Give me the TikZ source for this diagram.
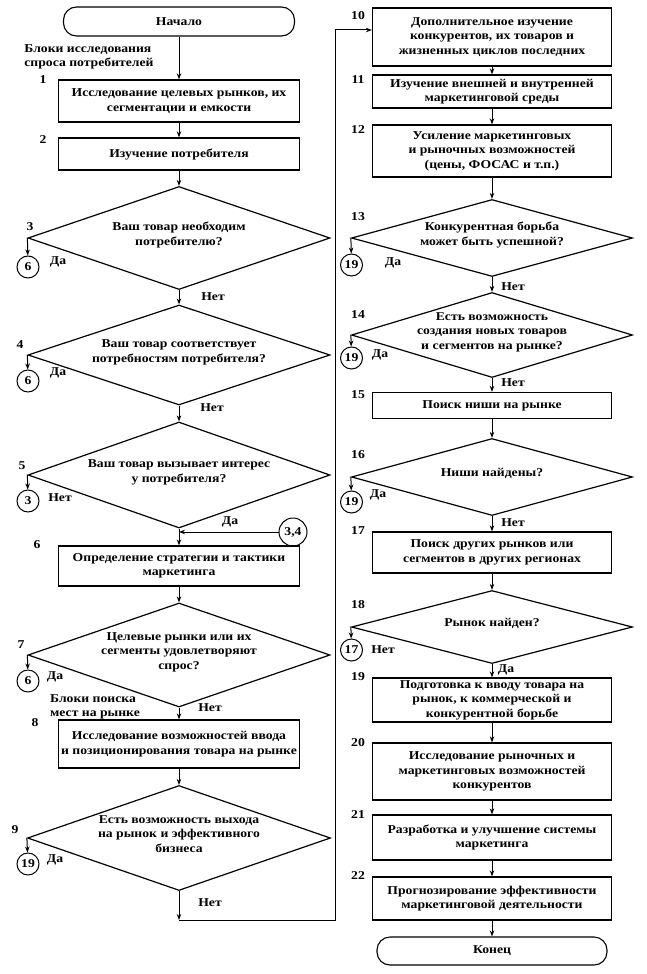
\documentclass[tikz,border=0pt]{standalone}
\usepackage{fontspec}
\setmainfont{Liberation Serif}[FakeStretch=1.14]
\usetikzlibrary{shapes.geometric,arrows.meta}
\newcommand{\dtext}[1]{\makebox[0pt]{\smash{\begin{tabular}{@{}c@{}}#1\end{tabular}}}}
\begin{document}
\begin{tikzpicture}[x=1pt,y=-1pt,
  every node/.style={font=\bfseries\fontsize{12}{14.5}\selectfont},
  box/.style={draw, line width=1.3pt, align=center, inner sep=1pt, minimum width=241pt},
  rbox/.style={box, minimum width=239pt},
  dia/.style={diamond, draw, line width=1.2pt, inner sep=0pt, minimum width=302pt},
  rdia/.style={dia, minimum width=281pt},
  term/.style={draw, rounded corners=13pt, line width=1.1pt, minimum width=231pt, minimum height=29pt},
  conn/.style={circle, draw, line width=1pt, minimum size=22pt, inner sep=0pt},
  lab/.style={inner sep=0pt},
  arr/.style={-{Stealth[length=6pt,width=4.5pt]}, line width=1pt}]
\useasboundingbox (0,0) rectangle (646,974);

% ---------- left column ----------
\node[term] (start) at (179,21.5) {Начало};
\node[lab, align=left] (t1) at (89,57) {Блоки исследования\\спроса потребителей};
\node[box, minimum height=42pt] (b1) at (179,101) {Исследование целевых рынков, их\\сегментации и емкости};
\node[box, minimum height=32pt] (b2) at (179,154) {Изучение потребителя};
\node[dia, minimum height=103pt] (d3) at (179,238) {\dtext{Ваш товар необходим\\потребителю?}};
\node[dia, minimum height=100pt] (d4) at (179,355) {\dtext{Ваш товар соответствует\\потребностям потребителя?}};
\node[dia, minimum height=106pt] (d5) at (179,475) {\dtext{Ваш товар вызывает интерес\\у потребителя?}};
\node[box, minimum height=40pt] (b6) at (179,566) {Определение стратегии и тактики\\маркетинга};
\node[dia, minimum height=104pt] (d7) at (179,655) {\dtext{Целевые рынки или их\\сегменты удовлетворяют\\спрос?}};
\node[lab, align=left] (t2) at (95,707) {Блоки поиска\\мест на рынке};
\node[box, minimum height=48pt] (b8) at (179,744) {Исследование возможностей ввода\\и позиционирования товара на рынке};
\node[dia, minimum width=303pt, minimum height=105pt] (d9) at (179,838) {\dtext{Есть возможность выхода\\на рынок и эффективного\\бизнеса}};

\node[conn] (c3) at (28,267) {6};
\node[conn] (c4) at (28,381) {6};
\node[conn] (c5) at (28,501) {3};
\node[conn] (c7) at (28,681) {6};
\node[conn] (c9) at (28,864) {19};
\node[conn, minimum size=28pt] (c34) at (293,532) {3,4};

% numbers left
\node[lab] (n1) at (43,80) {1};
\node[lab] (n2) at (43,140) {2};
\node[lab] (n3) at (30,227) {3};
\node[lab] (n4) at (20,345) {4};
\node[lab] (n5) at (22,466) {5};
\node[lab] (n6) at (37,545) {6};
\node[lab] (n7) at (21,645) {7};
\node[lab] (n8) at (35,723) {8};
\node[lab] (n9) at (15,830) {9};

% yes/no left
\node[lab] (y3) at (58,262) {Да};
\node[lab] (x3) at (213,297) {Нет};
\node[lab] (y4) at (58,373) {Да};
\node[lab] (x4) at (212,408) {Нет};
\node[lab] (x5) at (60,498) {Нет};
\node[lab] (y5) at (230,522) {Да};
\node[lab] (y7) at (55,677) {Да};
\node[lab] (x7) at (210,708) {Нет};
\node[lab] (y9) at (55,860) {Да};
\node[lab] (x9) at (210,903) {Нет};

% ---------- right column ----------
\node[rbox, minimum height=58pt] (b10) at (492,37) {Дополнительное изучение\\конкурентов, их товаров и\\жизненных циклов последних};
\node[rbox, minimum height=33pt] (b11) at (492,91.5) {Изучение внешней и внутренней\\маркетинговой среды};
\node[rbox, minimum height=52pt] (b12) at (492,151) {Усиление маркетинговых\\и рыночных возможностей\\(цены, ФОСАС и т.п.)};
\node[rdia, minimum height=77pt] (d13) at (492,238) {\dtext{Конкурентная борьба\\может быть успешной?}};
\node[rdia, minimum height=85pt] (d14) at (492,335) {\dtext{Есть возможность\\создания новых товаров\\и сегментов на рынке?}};
\node[rbox, minimum height=26pt] (b15) at (492,405.5) {Поиск ниши на рынке};
\node[rdia, minimum height=77pt] (d16) at (492,477) {\dtext{Ниши найдены?}};
\node[rbox, minimum height=41pt] (b17) at (492,552.5) {Поиск других рынков или\\сегментов в других регионах};
\node[rdia, minimum height=73pt] (d18) at (492,627) {\dtext{Рынок найден?}};
\node[rbox, minimum height=44pt] (b19) at (492,700) {Подготовка к вводу товара на\\рынок, к коммерческой и\\конкурентной борьбе};
\node[rbox, minimum height=57pt] (b20) at (492,771.5) {Исследование рыночных и\\маркетинговых возможностей\\конкурентов};
\node[rbox, minimum height=45pt] (b21) at (492,837.5) {Разработка и улучшение системы\\маркетинга};
\node[rbox, minimum height=43pt] (b22) at (492,898.5) {Прогнозирование эффективности\\маркетинговой деятельности};
\node[term, minimum width=230pt, minimum height=28pt] (end) at (492,951) {Конец};

\node[conn] (c13) at (351.5,265) {19};
\node[conn] (c14) at (351.5,358) {19};
\node[conn] (c16) at (351.5,502) {19};
\node[conn] (c18) at (351.5,650) {17};

% numbers right
\node[lab] (n10) at (358,16) {10};
\node[lab] (n11) at (358,80) {11};
\node[lab] (n12) at (358,130) {12};
\node[lab] (n13) at (358,217) {13};
\node[lab] (n14) at (358,315) {14};
\node[lab] (n15) at (358,395) {15};
\node[lab] (n16) at (358,455) {16};
\node[lab] (n17) at (358,531) {17};
\node[lab] (n18) at (358,605) {18};
\node[lab] (n19) at (358,677) {19};
\node[lab] (n20) at (358,743) {20};
\node[lab] (n21) at (358,815) {21};
\node[lab] (n22) at (358,876) {22};

% yes/no right
\node[lab] (y13) at (393,263) {Да};
\node[lab] (x13) at (513,287) {Нет};
\node[lab] (y14) at (380,355) {Да};
\node[lab] (x14) at (513,383) {Нет};
\node[lab] (y16) at (378,495) {Да};
\node[lab] (x16) at (513,523) {Нет};
\node[lab] (x18) at (383,650) {Нет};
\node[lab] (y18) at (506,670) {Да};

% ---------- connectors ----------
\draw[arr] (start) -- (b1);
\draw[arr] (b1) -- (b2);
\draw[arr] (b2) -- (d3);
\draw[arr] (d3) -- (d4);
\draw[arr] (d4) -- (d5);
\draw[arr] (d5) -- (b6);
\draw[arr] (b6) -- (d7);
\draw[arr] (d7) -- (b8);
\draw[arr] (b8) -- (d9);
\draw[arr] (d3.west) -- (c3);
\draw[arr] (d4.west) -- (c4);
\draw[arr] (d5.west) -- (c5);
\draw[arr] (d7.west) -- (c7);
\draw[arr] (d9.west) -- (c9);
\coordinate (j34) at (d5.south |- c34);
\draw[arr] (c34) -- (j34);
\coordinate (l1) at (179,920);
\coordinate (l2) at (335,920);
\coordinate (l3) at (335,30);
\draw[arr] (d9.south) -- (l1);
\draw[arr] (l1) -- (l2) -- (l3) -- (l3 -| b10.west);

\draw[arr] (b10) -- (b11);
\draw[arr] (b11) -- (b12);
\draw[arr] (b12) -- (d13);
\draw[arr] (d13) -- (d14);
\draw[arr] (d14) -- (b15);
\draw[arr] (b15) -- (d16);
\draw[arr] (d16) -- (b17);
\draw[arr] (b17) -- (d18);
\draw[arr] (d18) -- (b19);
\draw[arr] (b19) -- (b20);
\draw[arr] (b20) -- (b21);
\draw[arr] (b21) -- (b22);
\draw[arr] (b22) -- (end);
\draw[arr] (d13.west) -- (c13);
\draw[arr] (d14.west) -- (c14);
\draw[arr] (d16.west) -- (c16);
\draw[arr] (d18.west) -- (c18);
\end{tikzpicture}
\end{document}
